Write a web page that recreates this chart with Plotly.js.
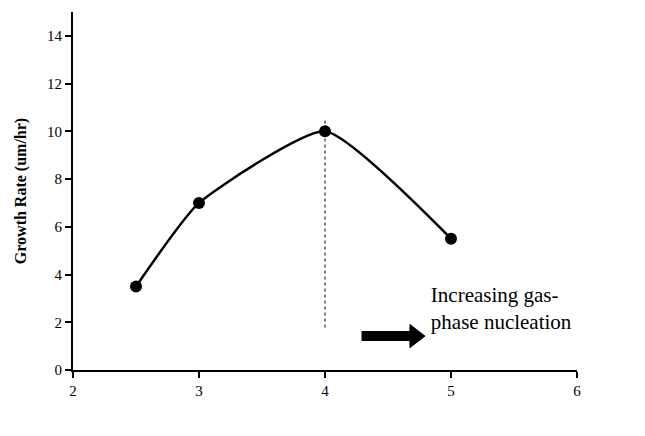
<!DOCTYPE html>
<html><head><meta charset="utf-8">
<script src="https://cdn.plot.ly/plotly-3.0.1.min.js"></script>
<style>body{margin:0;background:#fff}#c{width:645px;height:436px}</style>
</head><body><div id="c"></div>
<script>
const ratio = [2.5, 3, 4, 5];
const growthRate = [3.5, 7, 10, 5.5];
const xTicks = [2, 3, 4, 5, 6];
const yTicks = [0, 2, 4, 6, 8, 10, 12, 14];
const xTitle = ['Gas-phase AlCl\u2083/SiCl\u2084 Ratio'];
const xTitleX = [4.31];
const xTitleY = [-1.93];
const yTitle = 'Growth Rate (um/hr)';
const noteLines = ['Increasing gas-', 'phase nucleation'];
const noteX = [4.84, 4.84];
const noteY = [3.06, 1.93];
const peakX = [4, 4];
const dottedY = [10.45, 1.65];
const arrowX = [4.29, 4.714];
const arrowY = [1.42, 1.42];

const fam = 'Liberation Serif';
const traces = [
  {x: ratio, y: growthRate, mode: 'lines', line: {shape: 'spline', smoothing: 0.5, color: '#000', width: 2.5}, hoverinfo: 'skip'},
  {x: ratio, y: growthRate, mode: 'markers', marker: {color: '#000', size: 12}},
  {x: peakX, y: dottedY, mode: 'lines', line: {color: '#000', width: 1, dash: 'dot'}, hoverinfo: 'skip'},
  {x: arrowX, y: arrowY, mode: 'lines+markers', line: {color: '#000', width: 10},
   marker: {symbol: ['circle', 'triangle-right'], size: [0, 20], color: '#000', opacity: 1, line: {color: '#000', width: 1}},
   cliponaxis: false, hoverinfo: 'skip'},
  {x: noteX, y: noteY, mode: 'text', text: noteLines, textposition: 'middle right',
   textfont: {size: 21, family: fam, color: '#000'}, cliponaxis: false, hoverinfo: 'skip'},
  {x: xTitleX, y: xTitleY, mode: 'text', text: xTitle, textposition: 'middle center',
   textfont: {size: 20, family: fam, color: '#000'}, cliponaxis: false, hoverinfo: 'skip'}
];
const layout = {
  width: 645, height: 436, showlegend: false,
  margin: {l: 73, r: 68, t: 12, b: 66},
  font: {family: fam, color: '#000', size: 15},
  xaxis: {range: [2, 6], tickvals: xTicks, showgrid: false, zeroline: false, showline: true, linewidth: 2, linecolor: '#000',
          ticks: 'outside', ticklen: 6, tickwidth: 2, tickcolor: '#000', tickfont: {size: 15, family: fam, color: '#000'}},
  yaxis: {range: [0, 15], tickvals: yTicks, showgrid: false, zeroline: false, showline: true, linewidth: 2, linecolor: '#000',
          ticks: 'outside', ticklen: 6, tickwidth: 2, tickcolor: '#000', tickfont: {size: 15, family: fam, color: '#000'},
          title: {text: '<b>' + yTitle + '</b>', font: {size: 16, family: fam, color: '#000'}, standoff: 16}}
};
Plotly.newPlot('c', traces, layout, {displayModeBar: false});
</script></body></html>
